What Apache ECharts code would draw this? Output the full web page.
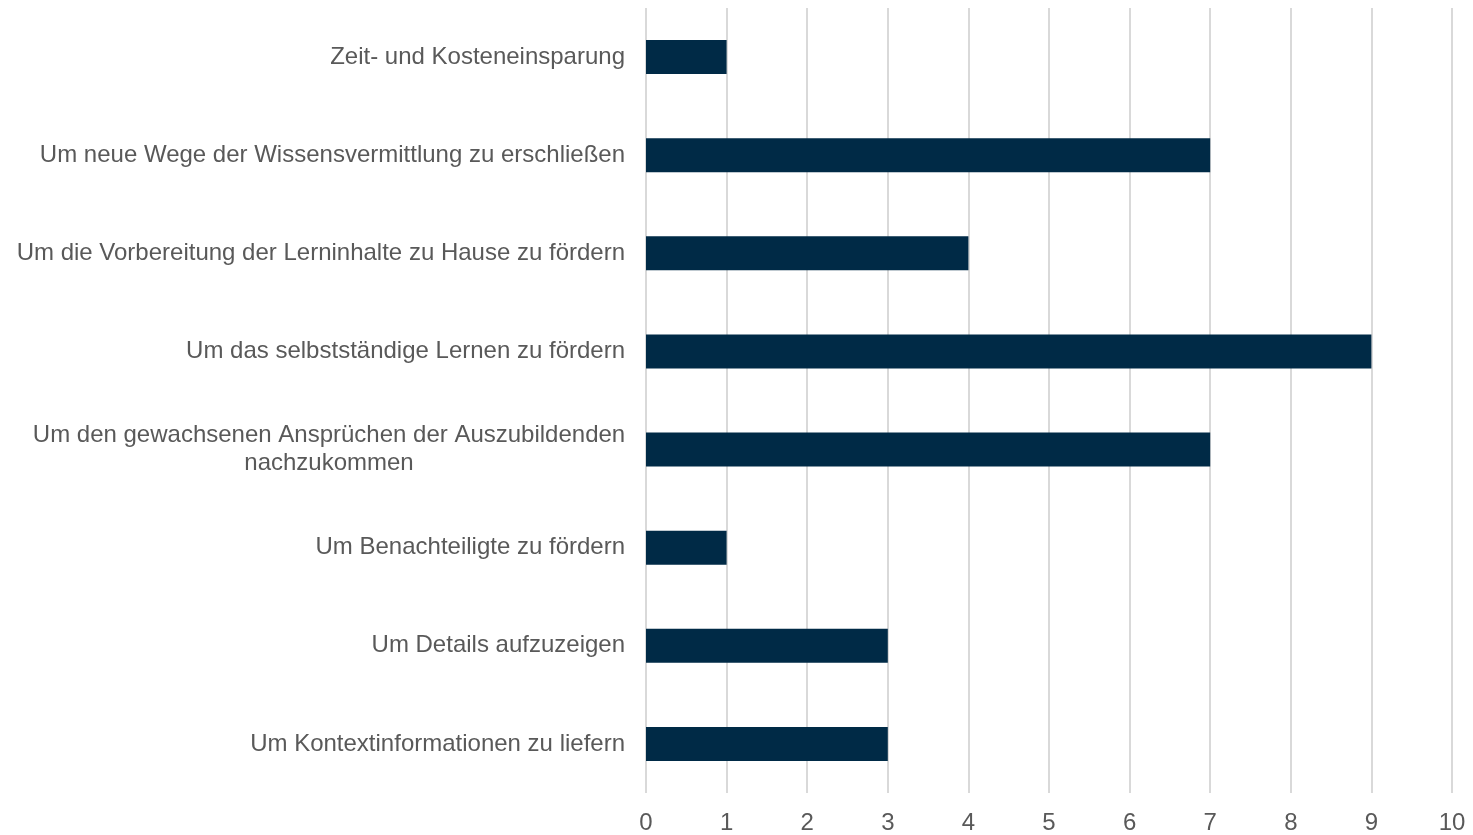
<!DOCTYPE html>
<html>
<head>
<meta charset="utf-8">
<script src="https://cdn.jsdelivr.net/npm/echarts@6/dist/echarts.min.js"></script>
<style>
  html, body { margin: 0; padding: 0; background: #fff; }
  #chart { width: 1473px; height: 835px; }
</style>
</head>
<body>
<div id="chart"></div>
<script>
// categories listed bottom to top (ECharts category y-axis starts at the bottom)
const categories = [
  'Um Kontextinformationen zu liefern',
  'Um Details aufzuzeigen',
  'Um Benachteiligte zu fördern',
  'Um den gewachsenen Ansprüchen der Auszubildenden\nnachzukommen',
  'Um das selbstständige Lernen zu fördern',
  'Um die Vorbereitung der Lerninhalte zu Hause zu fördern',
  'Um neue Wege der Wissensvermittlung zu erschließen',
  'Zeit- und Kosteneinsparung'
]
const values = [3, 3, 1, 7, 9, 4, 7, 1]

const chart = echarts.init(document.getElementById('chart'))

chart.setOption({
  animation: false,
  grid: { left: 646, right: 21, top: 8, bottom: 42 },
  xAxis: {
    type: 'value',
    min: 0,
    max: 10,
    interval: 1,
    axisLine: { show: false },
    axisTick: { show: false },
    splitLine: { lineStyle: { color: '#d9d9d9', width: 2 } },
    axisLabel: {
      color: '#595959',
      fontSize: 24,
      fontFamily: 'Liberation Sans',
      margin: 18
    }
  },
  yAxis: {
    type: 'category',
    data: categories,
    axisLine: { show: false },
    axisTick: { show: false },
    axisLabel: {
      color: '#595959',
      fontSize: 24,
      fontFamily: 'Liberation Sans',
      margin: 21,
      lineHeight: 28,
      formatter: (val) => {
        if (val.indexOf('\n') < 0) return val
        return val.split('\n').map(s => '{c|' + s + '}').join('\n')
      },
      rich: {
        c: {
          width: 592,
          align: 'center',
          color: '#595959',
          fontSize: 24,
          fontFamily: 'Liberation Sans',
          lineHeight: 28
        }
      }
    }
  },
  series: [
    {
      type: 'bar',
      data: values,
      barWidth: 34,
      itemStyle: { color: '#002a46' }
    }
  ]
})
</script>
</body>
</html>
